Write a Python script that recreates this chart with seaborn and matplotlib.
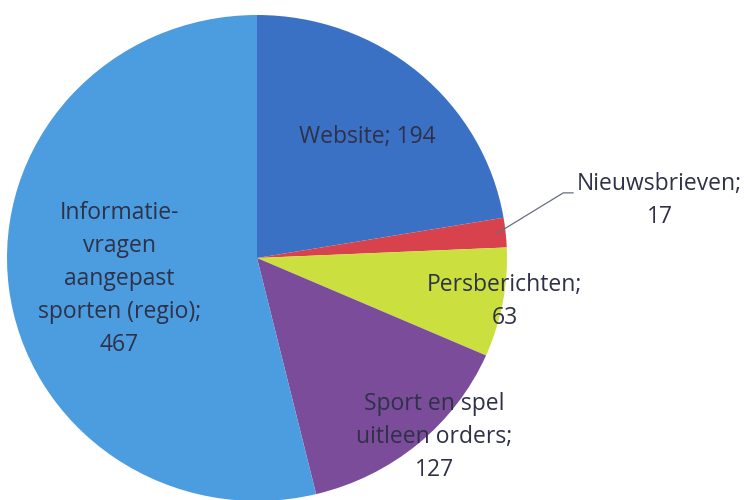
import matplotlib
matplotlib.use("Agg")
import matplotlib.pyplot as plt
import seaborn as sns
import numpy as np

sns.set_style("white")
plt.rcParams['font.family'] = ['Open Sans', 'DejaVu Sans']

# data
categories = ["Website", "Nieuwsbrieven", "Persberichten",
              "Sport en spel\nuitleen orders", "Informatie-\nvragen\naangepast\nsporten (regio)"]
values = [194, 17, 63, 127, 467]
colors = ["#3a71c4", "#d8424c", "#cbe03e", "#7b4c99", "#4b9de0"]

# label layout (data coords, pie radius = 1)
label_pos = [(0.44, 0.50), (1.61, 0.235), (0.99, -0.18), (0.71, -0.735), (-0.55, -0.085)]
label_txt = [f"{c}; {v}" if i == 0 else f"{c};\n{v}" for i, (c, v) in enumerate(zip(categories, values))]

fig = plt.figure(figsize=(7.44, 5.0), dpi=100)
ax = fig.add_axes([0, 0, 1, 1])

wedges, _ = ax.pie(values, colors=colors, startangle=90, counterclock=False,
                   radius=1, center=(0, 0), wedgeprops=dict(linewidth=0),
                   frame=False)
ax.set_aspect("auto")
ax.set_xlim(-257 / 250, (744 - 257) / 250)
ax.set_ylim((258 - 500) / 243, 258 / 243)
ax.axis("off")

for i, (txt, (x, y)) in enumerate(zip(label_txt, label_pos)):
    ax.text(x, y, txt, ha="center", va="center", fontsize=16.5, color="#2e3148",
            linespacing=1.5)

# leader line for the small slice
w = wedges[1]
ang = np.deg2rad((w.theta1 + w.theta2) / 2)
x0, y0 = 0.965 * np.cos(ang), 0.965 * np.sin(ang)
ax.plot([x0, 1.225, 1.265], [y0, 0.268, 0.268], color="#686e7c", lw=0.9)

fig.savefig("out.png", dpi=100)
